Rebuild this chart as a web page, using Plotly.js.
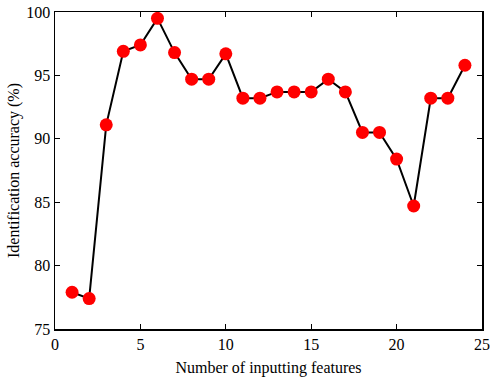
<!DOCTYPE html>
<html><head><meta charset="utf-8">
<script src="https://cdn.plot.ly/plotly-3.0.1.min.js"></script>
<style>html,body{margin:0;padding:0;background:#fff}#chart{width:490px;height:382px}</style>
</head><body><div id="chart"></div>
<script>
const features = [1,2,3,4,5,6,7,8,9,10,11,12,13,14,15,16,17,18,19,20,21,22,23,24];
const accuracy = [77.9,77.4,91.1,96.9,97.4,99.5,96.8,94.7,94.7,96.7,93.2,93.2,93.7,93.7,93.7,94.7,93.7,90.5,90.5,88.4,84.7,93.2,93.2,95.8];
const xTicks = [0,5,10,15,20,25];
const yTicks = [75,80,85,90,95,100];

const font = {family:'"Liberation Serif","Times New Roman",serif', size:16, color:'#000'};
Plotly.newPlot('chart', [{
  x: features, y: accuracy, type:'scatter', mode:'lines+markers',
  line:{color:'#000', width:2},
  marker:{color:'#ff0000', size:13, line:{width:0}}
}], {
  width:490, height:382,
  margin:{l:55, r:8, t:12, b:53},
  paper_bgcolor:'#fff', plot_bgcolor:'#fff',
  font: font,
  showlegend:false,
  xaxis:{range:[0,25], tickvals:xTicks, ticks:'inside', ticklen:5, tickcolor:'#000',
    showline:true, mirror:'ticks', linecolor:'#000', linewidth:1.5, showgrid:false, zeroline:false,
    title:{text:'Number of inputting features', font:font, standoff:10}},
  yaxis:{range:[75,100], tickvals:yTicks, ticks:'inside', ticklen:5, tickcolor:'#000',
    showline:true, mirror:'ticks', linecolor:'#000', linewidth:1.5, showgrid:false, zeroline:false,
    title:{text:'Identification accuracy (%)', font:font, standoff:2}}
}, {displayModeBar:false, staticPlot:true});
</script></body></html>
